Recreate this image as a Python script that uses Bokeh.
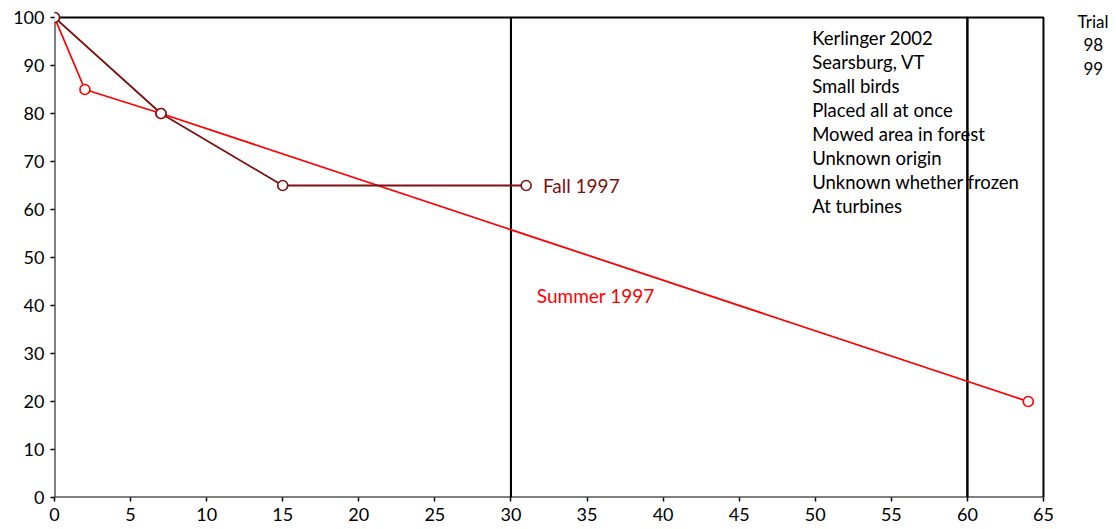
from bokeh.plotting import figure
from bokeh.models import Label, Range1d, FixedTicker
from bokeh.embed import file_html
from bokeh.resources import INLINE

# Data
summer_x = [0, 2, 7, 64]
summer_y = [100, 85, 80, 20]
fall_x = [0, 7, 15, 31]
fall_y = [100, 80, 65, 65]

box_left = [0, 30, 60]
box_right = [30, 60, 65]
box_top = [100, 100, 100]
box_bottom = [0, 0, 0]

x_ticks = list(range(0, 70, 5))
y_ticks = list(range(0, 110, 10))

notes = ["Kerlinger 2002", "Searsburg, VT", "Small birds", "Placed all at once",
         "Mowed area in forest", "Unknown origin", "Unknown whether frozen", "At turbines"]
legend_title = "Trial"
legend_items = ["98", "99"]

RED = "#FF0000"
DARK = "#7F1010"
FONT = "Lato"

# the plotting area runs past x=65 and y=100 so that the side texts are inside it;
# the visible frame is drawn by the boxes
p = figure(width=1116, height=529, output_backend="svg", toolbar_location=None,
           x_range=Range1d(0, 69.80), y_range=Range1d(0, 103.54),
           min_border_left=54, min_border_top=0, min_border_right=0, min_border_bottom=32)
p.outline_line_color = None
p.xgrid.visible = False
p.ygrid.visible = False

for ax, ticks in ((p.xaxis, x_ticks), (p.yaxis, y_ticks)):
    ax.ticker = FixedTicker(ticks=ticks)
    ax.axis_line_color = None
    ax.major_tick_line_color = "black"
    ax.major_tick_line_width = 1.5
    ax.major_tick_out = 4
    ax.major_tick_in = 0
    ax.minor_tick_line_color = None
    ax.major_label_text_font = FONT
    ax.major_label_text_font_size = "18px"
    ax.major_label_text_color = "black"
p.xaxis.major_label_standoff = 6
p.yaxis.major_label_standoff = 6

p.quad(left=box_left, right=box_right, top=box_top, bottom=box_bottom,
       fill_color=None, line_color="black", line_width=2)

p.line(summer_x, summer_y, line_color=RED, line_width=1.8)
p.line(fall_x, fall_y, line_color=DARK, line_width=1.8)
p.scatter(summer_x, summer_y, marker="circle", size=10, fill_color="white",
          line_color=RED, line_width=1.6)
p.scatter(fall_x, fall_y, marker="circle", size=10, fill_color="white",
          line_color=DARK, line_width=1.6)

p.add_layout(Label(x=32.1, y=65, text="Fall 1997", text_color=DARK, text_font=FONT,
                   text_font_size="19px", text_baseline="middle"))
p.add_layout(Label(x=31.7, y=42.0, text="Summer 1997", text_color=RED, text_font=FONT,
                   text_font_size="19px", text_baseline="middle"))

for i, t in enumerate(notes):
    p.add_layout(Label(x=49.8, y=95.8 - i * 5.0, text=t, text_color="black",
                       text_font=FONT, text_font_size="18.5px", text_baseline="middle"))

p.add_layout(Label(x=67.24, y=99.2, text=legend_title, text_color="black",
                   text_font=FONT, text_font_size="17px", text_baseline="middle"))
for i, t in enumerate(legend_items):
    p.add_layout(Label(x=67.63, y=94.4 - i * 5.0, text=t, text_color="black",
                       text_font=FONT, text_font_size="17px", text_baseline="middle"))

open("out.html", "w").write(file_html(p, INLINE))
